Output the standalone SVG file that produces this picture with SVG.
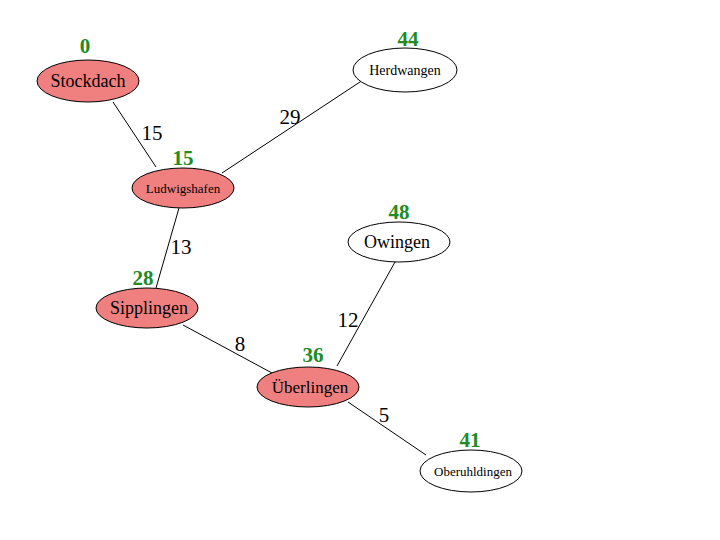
<svg xmlns="http://www.w3.org/2000/svg" width="720" height="540" viewBox="0 0 720 540">
<style>
ellipse{stroke:#000;stroke-width:1}
.v{fill:#F08080}
.u{fill:#fff}
.t{fill:#000;text-anchor:middle}
.d{font-weight:bold;font-size:21px;fill:#228B22;text-anchor:middle}
.w{font-size:21px;fill:#000;text-anchor:middle}
line{stroke:#000;stroke-width:1}
</style>
<rect width="720" height="540" fill="#fff"/>
<g font-family="Liberation Serif, serif">
<g id="edges">
<line x1="113" y1="102" x2="156" y2="167"/>
<line x1="222" y1="173" x2="363" y2="80"/>
<line x1="179" y1="208" x2="156" y2="288"/>
<line x1="183" y1="325" x2="272" y2="373"/>
<line x1="395" y1="262" x2="337" y2="366"/>
<line x1="348" y1="402" x2="426" y2="455"/>
<text class="w" x="152" y="140" font-family="Liberation Serif">15</text>
<text class="w" x="290" y="124" font-family="Liberation Serif">29</text>
<text class="w" x="181" y="254" font-family="Liberation Serif">13</text>
<text class="w" x="240" y="351" font-family="Liberation Serif">8</text>
<text class="w" x="348" y="327" font-family="Liberation Serif">12</text>
<text class="w" x="384" y="422" font-family="Liberation Serif">5</text>
</g>
<g id="Stockdach">
<ellipse class="v" cx="88" cy="81" rx="51" ry="21"/>
<text class="t" x="88" y="87" font-size="18" font-family="Liberation Serif">Stockdach</text>
<text class="d" x="85" y="53" font-family="Liberation Serif">0</text>
</g>
<g id="Herdwangen">
<ellipse class="u" cx="405" cy="70" rx="52" ry="22"/>
<text class="t" x="405" y="75" font-size="14" font-family="Liberation Serif">Herdwangen</text>
<text class="d" x="408" y="46" font-family="Liberation Serif">44</text>
</g>
<g id="Ludwigshafen">
<ellipse class="v" cx="183" cy="188" rx="51" ry="20"/>
<text class="t" x="183" y="193" font-size="13" font-family="Liberation Serif">Ludwigshafen</text>
<text class="d" x="183" y="165" font-family="Liberation Serif">15</text>
</g>
<g id="Owingen">
<ellipse class="u" cx="399" cy="242" rx="51" ry="20"/>
<text class="t" x="397" y="248" font-size="18" font-family="Liberation Serif">Owingen</text>
<text class="d" x="399" y="219" font-family="Liberation Serif">48</text>
</g>
<g id="Sipplingen">
<ellipse class="v" cx="147" cy="308" rx="51" ry="20"/>
<text class="t" x="149" y="314" font-size="18" font-family="Liberation Serif">Sipplingen</text>
<text class="d" x="143" y="285" font-family="Liberation Serif">28</text>
</g>
<g id="Uberlingen">
<ellipse class="v" cx="308" cy="387" rx="51" ry="20"/>
<text class="t" x="310" y="393" font-size="17" font-family="Liberation Serif">Überlingen</text>
<text class="d" x="313" y="362" font-family="Liberation Serif">36</text>
</g>
<g id="Oberuhldingen">
<ellipse class="u" cx="471" cy="471" rx="51" ry="21"/>
<text class="t" x="473" y="476" font-size="13" font-family="Liberation Serif">Oberuhldingen</text>
<text class="d" x="470" y="447" font-family="Liberation Serif">41</text>
</g>
</g>
</svg>
